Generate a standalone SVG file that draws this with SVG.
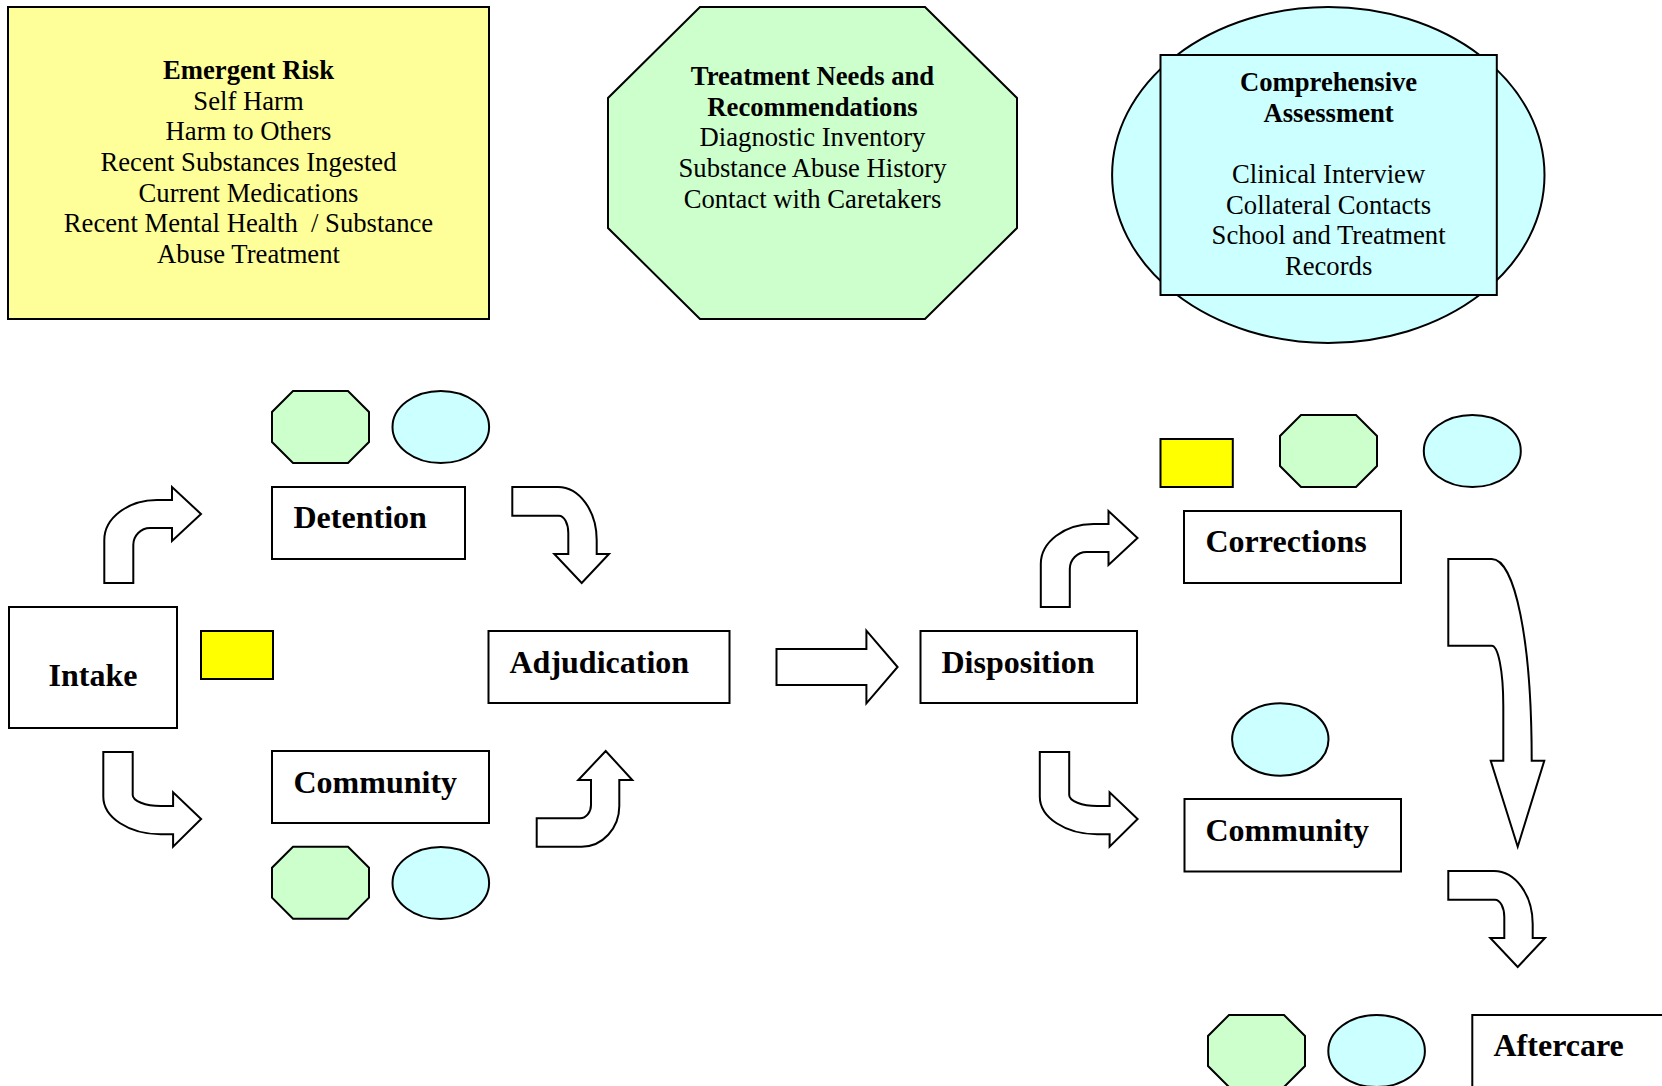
<svg xmlns="http://www.w3.org/2000/svg" xmlns:xlink="http://www.w3.org/1999/xlink" width="1662" height="1086" viewBox="0 0 1662 1086">
<style>
  .box { fill: #FFFFFF; stroke: #000000; stroke-width: 2; }
  .yel { fill: #FFFF99; stroke: #000000; stroke-width: 2; }
  .ysq { fill: #FFFF00; stroke: #000000; stroke-width: 2; }
  .grn { fill: #CCFFCC; stroke: #000000; stroke-width: 2; }
  .cyn { fill: #CCFFFF; stroke: #000000; stroke-width: 2; }
  .arr { fill: #FFFFFF; stroke: #000000; stroke-width: 2; stroke-linejoin: miter; }
  .t { font-family: "Liberation Serif", "Times New Roman", serif; font-size: 26.67px; fill: #000000; text-anchor: middle; }
  .tb { font-weight: bold; }
  .lbl { font-family: "Liberation Serif", "Times New Roman", serif; font-size: 32px; font-weight: bold; fill: #000000; }
</style>
<defs>
  <polygon id="oct" points="293,391 348,391 369,412 369,442 348,463 293,463 272,442 272,412"/>
  <path id="arrUR" d="M104.3,583 L104.3,540 C104.3,518 128,500 157,500 L172,500 L172,487 L201,514 L172,541 L172,528 L150,528 C140.8,528 133.3,535.6 133.3,545 L133.3,583 Z"/>
  <path id="arrRD" d="M512.3,487 L558,487 C579.3,487 596.7,511 596.7,540 L596.7,554 L609,554 L581.7,583 L554.3,554 L568.3,554 L568.3,533 C568.3,523.5 564.1,515.7 559,515.7 L512.3,515.7 Z"/>
  <path id="arrDR" d="M103.3,752 L132.7,752 L132.7,795 C132.7,801 145.3,806 160.7,806 L173.1,806 L173.1,792.3 L201.1,819 L173.1,846.7 L173.1,834.3 L160.7,834.3 C129.1,834.3 103.3,817.4 103.3,796.7 Z"/>
</defs>

<g id="emergent-risk">
  <rect class="yel" x="8" y="7" width="481" height="312"/>
  <text class="t tb" x="248.5" y="79">Emergent Risk</text>
  <text class="t" x="248.5" y="109.7">Self Harm</text>
  <text class="t" x="248.5" y="140.4">Harm to Others</text>
  <text class="t" x="248.5" y="171">Recent Substances Ingested</text>
  <text class="t" x="248.5" y="201.7">Current Medications</text>
  <text class="t" x="248.5" y="232.4" xml:space="preserve">Recent Mental Health  / Substance</text>
  <text class="t" x="248.5" y="263">Abuse Treatment</text>
</g>

<g id="treatment-needs">
  <polygon class="grn" points="700,7 925,7 1017,98 1017,228 925,319 700,319 608,228 608,98"/>
  <text class="t tb" x="812.5" y="85">Treatment Needs and</text>
  <text class="t tb" x="812.5" y="115.7">Recommendations</text>
  <text class="t" x="812.5" y="146.4">Diagnostic Inventory</text>
  <text class="t" x="812.5" y="177">Substance Abuse History</text>
  <text class="t" x="812.5" y="207.7">Contact with Caretakers</text>
</g>

<g id="comprehensive-assessment">
  <ellipse class="cyn" cx="1328.3" cy="175" rx="216.2" ry="168"/>
  <rect class="cyn" x="1160.5" y="55" width="336.3" height="240"/>
  <text class="t tb" x="1328.6" y="91">Comprehensive</text>
  <text class="t tb" x="1328.6" y="121.7">Assessment</text>
  <text class="t" x="1328.6" y="183">Clinical Interview</text>
  <text class="t" x="1328.6" y="213.7">Collateral Contacts</text>
  <text class="t" x="1328.6" y="244.4">School and Treatment</text>
  <text class="t" x="1328.6" y="275">Records</text>
</g>

<g id="intake">
  <rect class="box" x="9" y="607" width="168" height="121"/>
  <text class="lbl" x="93" y="686" text-anchor="middle">Intake</text>
</g>
<g id="intake-marker">
  <rect class="ysq" x="201" y="631" width="72" height="48"/>
</g>

<g id="detention">
  <rect class="box" x="272" y="487" width="193" height="72"/>
  <text class="lbl" x="293.5" y="528">Detention</text>
</g>
<g id="detention-markers">
  <use xlink:href="#oct" class="grn"/>
  <ellipse class="cyn" cx="440.8" cy="427" rx="48.3" ry="36"/>
</g>

<g id="community-left">
  <rect class="box" x="272" y="751" width="217" height="72"/>
  <text class="lbl" x="293.5" y="792.5">Community</text>
</g>
<g id="community-left-markers">
  <use xlink:href="#oct" class="grn" transform="translate(0,455.7)"/>
  <ellipse class="cyn" cx="440.8" cy="883" rx="48.3" ry="36"/>
</g>

<g id="adjudication">
  <rect class="box" x="488.5" y="631" width="241" height="72"/>
  <text class="lbl" x="509.5" y="672.5">Adjudication</text>
</g>

<g id="disposition">
  <rect class="box" x="920.5" y="631" width="216.5" height="72"/>
  <text class="lbl" x="941.5" y="672.5">Disposition</text>
</g>

<g id="corrections">
  <rect class="box" x="1184" y="511" width="217" height="72"/>
  <text class="lbl" x="1205.5" y="552">Corrections</text>
</g>
<g id="corrections-markers">
  <rect class="ysq" x="1160.5" y="439" width="72.3" height="48"/>
  <use xlink:href="#oct" class="grn" transform="translate(1008,24)"/>
  <ellipse class="cyn" cx="1472.3" cy="451" rx="48.5" ry="36"/>
</g>

<g id="community-right">
  <rect class="box" x="1184.5" y="799" width="216.5" height="72.5"/>
  <text class="lbl" x="1205.5" y="840.5">Community</text>
</g>
<g id="community-right-markers">
  <ellipse class="cyn" cx="1280.3" cy="739.5" rx="48.2" ry="36.2"/>
</g>

<g id="aftercare">
  <rect class="box" x="1472.3" y="1015" width="217" height="72"/>
  <text class="lbl" x="1493.5" y="1056">Aftercare</text>
</g>
<g id="aftercare-markers">
  <use xlink:href="#oct" class="grn" transform="translate(936,624)"/>
  <ellipse class="cyn" cx="1376.6" cy="1051" rx="48.3" ry="36"/>
</g>

<g id="connectors">
  <use xlink:href="#arrUR" class="arr"/>
  <use xlink:href="#arrRD" class="arr"/>
  <use xlink:href="#arrDR" class="arr"/>
  <path class="arr" d="M536.7,846.7 L581.7,846.7 C602.4,846.7 619.3,828.4 619.3,806 L619.3,780 L632.3,780 L605.7,751 L578.3,780 L591,780 L591,805 C591,812.3 586,818.3 580,818.3 L536.7,818.3 Z"/>
  <path class="arr" d="M776.5,649 L866.4,649 L866.4,630.7 L897.6,667 L866.4,703.3 L866.4,685 L776.5,685 Z"/>
  <use xlink:href="#arrUR" class="arr" transform="translate(936.5,24)"/>
  <use xlink:href="#arrDR" class="arr" transform="translate(936.5,0)"/>
  <path class="arr" d="M1448.3,559 L1491.7,559 C1515,559 1531.7,640 1531.7,760.7 L1544.3,760.7 L1517.7,846.7 L1490.7,760.7 L1503.3,760.7 L1503.3,706 C1503.3,670 1498,645.7 1491.7,645.7 L1448.3,645.7 Z"/>
  <use xlink:href="#arrRD" class="arr" transform="translate(936,384)"/>
</g>
</svg>
